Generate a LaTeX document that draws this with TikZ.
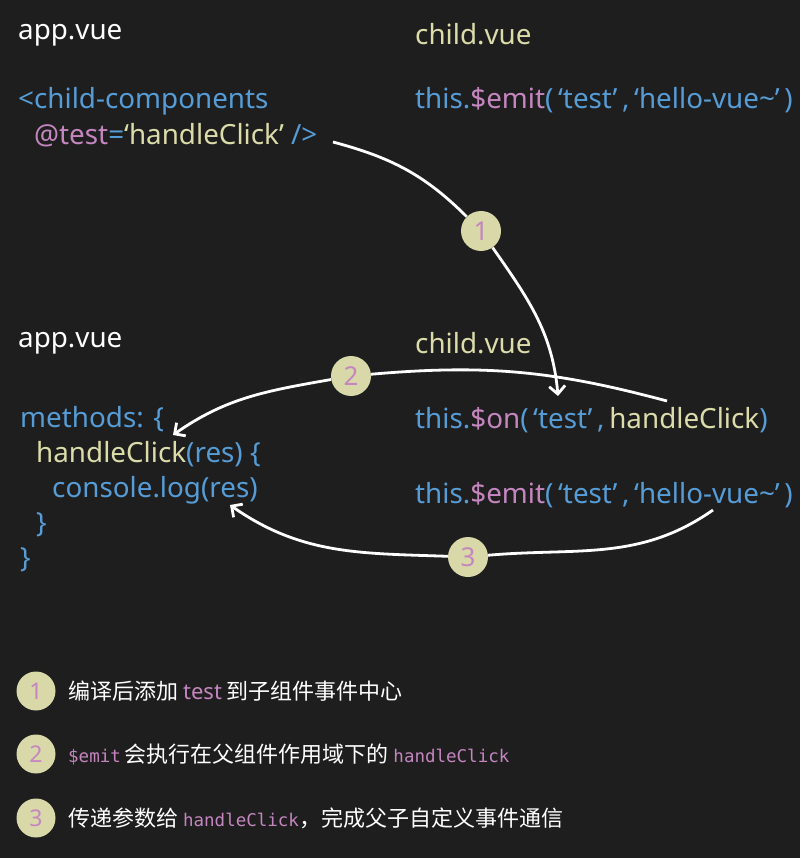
\documentclass[tikz,border=0pt]{standalone}
\usepackage{fontspec}
\setmainfont{Noto Sans}
\newfontfamily\cjkfont{Noto Sans CJK SC}
\newfontfamily\monofont{DejaVu Sans Mono}
\usetikzlibrary{arrows.meta,positioning}
\definecolor{bgdark}{HTML}{1E1E1E}
\definecolor{fnyellow}{HTML}{DCDCAA}
\definecolor{kwblue}{HTML}{569CD6}
\definecolor{atpink}{HTML}{C586C0}
\definecolor{numfill}{HTML}{D8D8A8}

\begin{document}
\begin{tikzpicture}[x=1pt, y=-1pt, >={Straight Barb[length=8pt,width=16pt]},
  code/.style={anchor=base west, inner sep=0pt, font=\fontsize{27.8}{32}\selectfont},
  num/.style={circle, fill=numfill, minimum size=40pt, inner sep=0pt, text=atpink, font=\fontsize{26}{26}\selectfont},
  keynum/.style={num, minimum size=39pt, font=\fontsize{23}{23}\selectfont},
  keytext/.style={anchor=base west, inner sep=0pt, text=white, font=\cjkfont\fontsize{22}{26}\selectfont},
  flow/.style={draw=white, line width=2.8pt}]
  % background
  \fill[bgdark] (0,0) rectangle (800,858);
  \useasboundingbox (0,0) rectangle (800,858);

  % top: app.vue
  \node[code, text=white] (appa) at (18,40) {app.vue};
  \node[code, text=kwblue] (tag) at (18,109) {<child-components};
  \node[code] (attr) at (34,145) {\textcolor{atpink}{@test}\textcolor{kwblue}{=}\textcolor{fnyellow}{‘handleClick’}\ \textcolor{kwblue}{/>}};

  % top: child.vue
  \node[code, text=fnyellow] (childa) at (415,45) {child.vue};
  \node[code, text=kwblue] (emita) at (415,109) {this.\textcolor{atpink}{\$emit}(\,‘test’\,,\,‘hello-vue\textasciitilde’\,)};

  % bottom: app.vue
  \node[code, text=white] (appb) at (18,347) {app.vue};
  \node[code, text=kwblue] (meth) at (20,427) {methods: \{};
  \node[code, text=kwblue] (hdl) at (36,462) {\textcolor{fnyellow}{handleClick}(res) \{};
  \node[code, text=kwblue] (log) at (52,497) {console.log(res)};
  \node[code, text=kwblue] (brin) at (36,532) {\}};
  \node[code, text=kwblue] (brout) at (20,567) {\}};

  % bottom: child.vue
  \node[code, text=fnyellow] (childb) at (415,353) {child.vue};
  \node[code, text=kwblue] (on) at (415,428) {this.\textcolor{atpink}{\$on}(\,‘test’\,,\,\textcolor{fnyellow}{handleClick})};
  \node[code, text=kwblue] (emitb) at (415,503) {this.\textcolor{atpink}{\$emit}(\,‘test’\,,\,‘hello-vue\textasciitilde’\,)};

  % step markers
  \node[num] (n1) at (481,231) {1};
  \node[num] (n2) at (351,376) {2};
  \node[num] (n3) at (468,557) {3};

  % arrow ends
  \coordinate (s1) at (333,142);
  \coordinate (e1) at (558,396);
  \coordinate (s2) at (667,401);
  \coordinate (e2) at (173,435);
  \coordinate (s3) at (713,510);
  \coordinate (e3) at (230,505);

  % flows
  \draw[flow] (s1) to[out=-15, in=135] (n1);
  \draw[flow, ->] (n1) to[out=-55, in=95] (e1);
  \draw[flow] (s2) to[out=165, in=5] (n2);
  \draw[flow, ->] (n2) to[out=190, in=35] (e2);
  \draw[flow] (s3) to[out=215, in=5] (n3);
  \draw[flow, ->] (n3) to[out=178, in=-35] (e3);

  % legend
  \node[keynum] (k1) at (36,691) {1};
  \node[keynum] (k2) at (36,754) {2};
  \node[keynum] (k3) at (36,818) {3};
  \node[keytext] (t1) at (68,699) {编译后添加 \textcolor{atpink}{\rmfamily test} 到子组件事件中心};
  \node[keytext] (t2) at (68,762) {\textcolor{atpink}{\monofont\fontsize{17.5}{20}\selectfont\$emit}\,会执行在父组件作用域下的 \textcolor{atpink}{\monofont\fontsize{17.5}{20}\selectfont handleClick}};
  \node[keytext] (t3) at (68,826) {传递参数给 \textcolor{atpink}{\monofont\fontsize{17.5}{20}\selectfont handleClick}，完成父子自定义事件通信};
\end{tikzpicture}
\end{document}
